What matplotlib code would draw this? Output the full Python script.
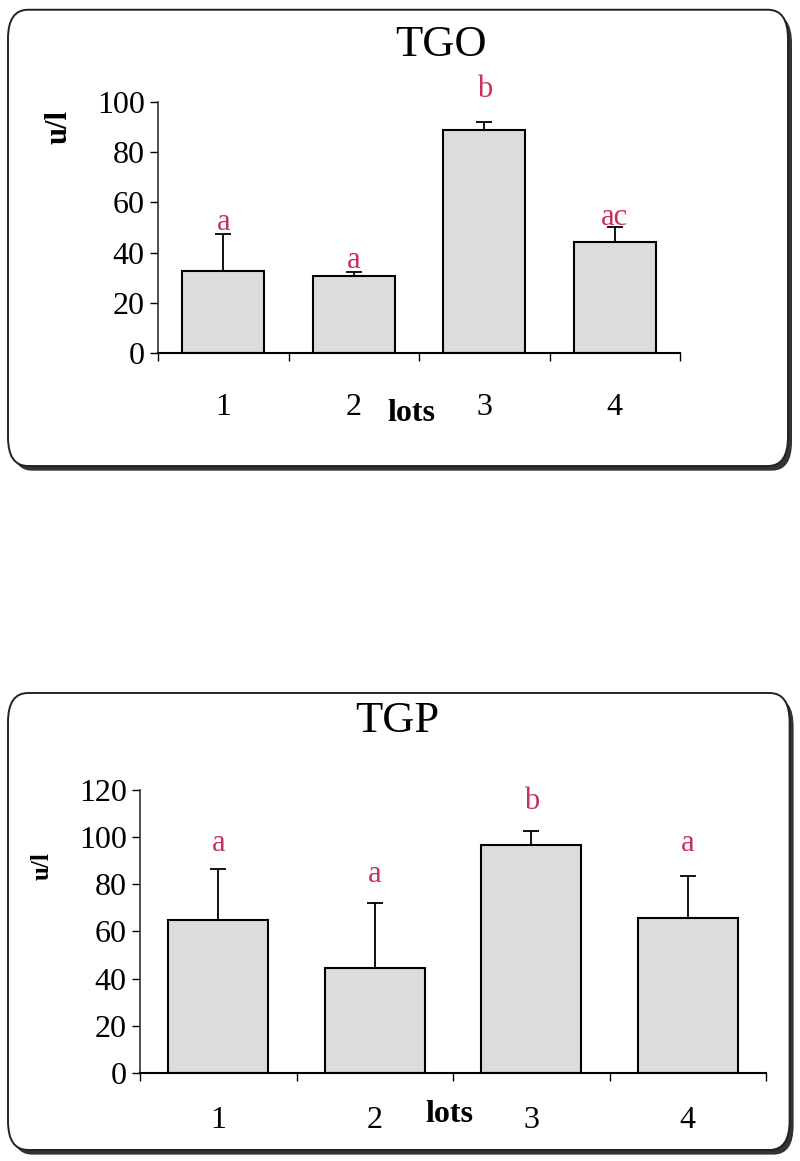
import numpy as np
import matplotlib.pyplot as plt
from matplotlib.patches import FancyBboxPatch

plt.rcParams['font.family'] = ['Liberation Serif', 'DejaVu Serif']

lots = ['1', '2', '3', '4']

# TGO (u/l)
tgo_mean = [32.7, 30.7, 89.0, 44.3]
tgo_err = [14.5, 1.5, 3.0, 6.0]
tgo_letters = ['a', 'a', 'b', 'ac']
tgo_letter_y = [52, 37, 105, 54]

# TGP (u/l)
tgp_mean = [64.8, 44.5, 96.6, 65.5]
tgp_err = [21.5, 27.5, 6.0, 18.0]
tgp_letters = ['a', 'a', 'b', 'a']
tgp_letter_y = [97.5, 84, 115, 97.5]

pink = '#c8325a'

fig = plt.figure(figsize=(8, 11.61), dpi=100)


def panel(box, axpos, title, title_xy, mean, err, letters, letter_y,
          ymax, ystep, bar_w, ylab_xy, ylab_size, lots_xy, pad):
    # shadow + white rounded frame
    x0, y0, w, h = box
    sh = FancyBboxPatch((x0 + 0.005, y0 - 0.004), w, h,
                        boxstyle='round,pad=0,rounding_size=0.025',
                        transform=fig.transFigure, fc='#333333', ec='none',
                        zorder=0)
    fr = FancyBboxPatch((x0, y0), w, h,
                        boxstyle='round,pad=0,rounding_size=0.025',
                        transform=fig.transFigure, fc='white', ec='#222222',
                        lw=1.4, zorder=1)
    fig.patches.extend([sh, fr])

    ax = fig.add_axes(axpos)
    ax.set_zorder(2)
    ax.patch.set_visible(False)
    x = np.arange(1, len(lots) + 1)
    ax.bar(x, mean, width=bar_w, color='#dcdcdc', edgecolor='black',
           linewidth=1.5, zorder=2)
    ax.errorbar(x, mean, yerr=[np.zeros(len(err)), err], fmt='none',
                ecolor='black', elinewidth=1.3, capsize=5.5, capthick=1.3,
                zorder=3)
    for xi, lab, ly in zip(x, letters, letter_y):
        ax.text(xi, ly, lab, color=pink, fontsize=22, ha='center',
                va='center', clip_on=False)

    ax.set_xlim(0.5, 4.5)
    ax.set_ylim(0, ymax)
    ax.set_yticks(np.arange(0, ymax + 1, ystep))
    ax.set_xticks(x)
    ax.set_xticklabels(lots)
    ax.set_xticks(np.arange(0.5, 4.6, 1), minor=True)
    ax.tick_params(axis='x', which='major', length=0, pad=pad, labelsize=23)
    ax.tick_params(axis='x', which='minor', length=6, width=1, direction='out')
    ax.tick_params(axis='y', length=6, width=1, direction='out', labelsize=23)
    for s in ['top', 'right']:
        ax.spines[s].set_visible(False)
    ax.spines['left'].set_linewidth(1.2)
    ax.spines['left'].set_color('#333333')
    ax.spines['bottom'].set_linewidth(1.5)

    ax.text(ylab_xy[0], ylab_xy[1], 'u/l', transform=ax.transAxes,
            rotation=90, fontsize=ylab_size, fontweight='bold',
            ha='center', va='center')
    ax.text(lots_xy[0], lots_xy[1], 'lots', transform=ax.transAxes,
            fontsize=23, fontweight='bold', ha='center', va='center')
    fig.text(title_xy[0], title_xy[1], title, fontsize=32,
             ha='center', va='center')


panel(box=(0.010, 0.5986, 0.975, 0.393),
      axpos=[0.1975, 0.6960, 0.6525, 0.2162],
      title='TGO', title_xy=(0.551, 0.9612),
      mean=tgo_mean, err=tgo_err, letters=tgo_letters, letter_y=tgo_letter_y,
      ymax=100, ystep=20, bar_w=0.63,
      ylab_xy=(-0.19, 0.90), ylab_size=22,
      lots_xy=(0.485, -0.24), pad=29)

panel(box=(0.010, 0.0095, 0.977, 0.3936),
      axpos=[0.175, 0.0758, 0.7825, 0.2438],
      title='TGP', title_xy=(0.497, 0.379),
      mean=tgp_mean, err=tgp_err, letters=tgp_letters, letter_y=tgp_letter_y,
      ymax=120, ystep=20, bar_w=0.64,
      ylab_xy=(-0.157, 0.73), ylab_size=18,
      lots_xy=(0.495, -0.145), pad=24)

fig.savefig('out.png', dpi=100)
